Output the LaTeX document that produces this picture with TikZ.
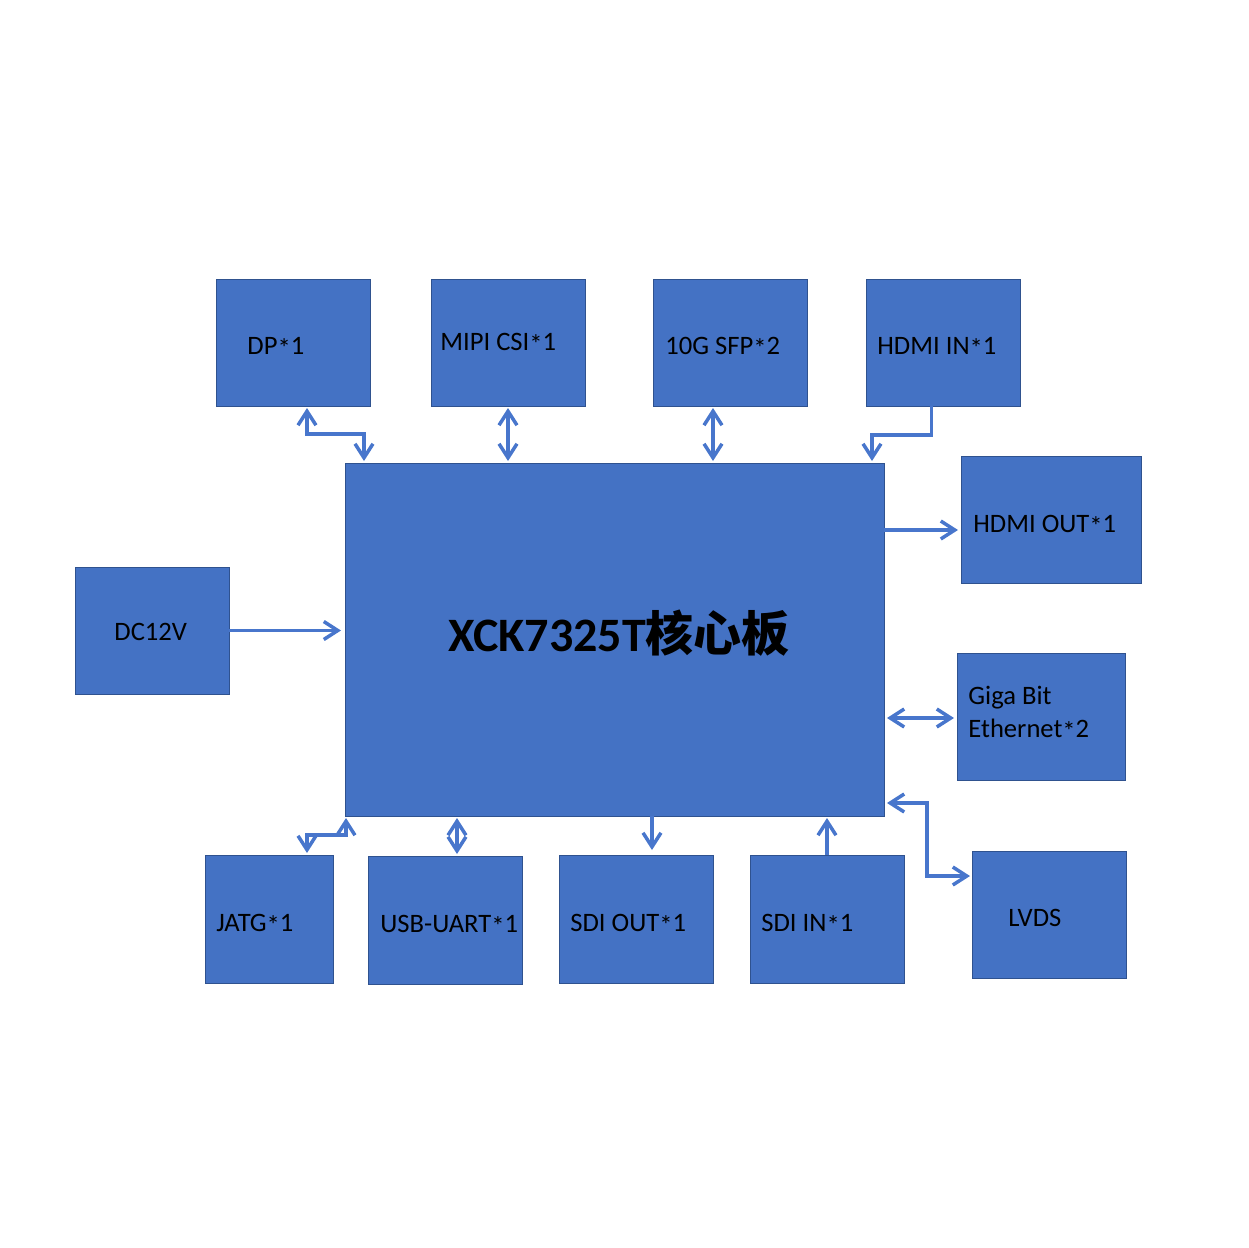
\documentclass[tikz,border=0pt]{standalone}
\usepackage{fontspec}
\setmainfont{Carlito}
\newfontfamily\cjk{Noto Sans CJK SC}
\usepackage{xcolor}
\usetikzlibrary{calc, arrows.meta}
\definecolor{boxblue}{RGB}{68,114,196}
\definecolor{boxedge}{RGB}{47,82,143}
\definecolor{linkblue}{RGB}{72,118,204}
% the asterisk sits lower in the original face
\newcommand\starmark{\raisebox{-.12em}{*}}

\begin{document}
\begin{tikzpicture}[
    x=.5pt, y=-.5pt,
    blockbox/.style={fill=boxblue, draw=boxedge, line width=.5pt,
        anchor=north west, inner sep=0pt, outer sep=0pt,
        minimum width=77pt, minimum height=63.5pt},
    boxtext/.style={anchor=base west, inner sep=0pt,
        font=\fontsize{13.3}{16.5}\selectfont},
    link/.style={draw=linkblue, line width=1.75pt,
        -{Straight Barb[length=7pt, width=9pt]}},
    twoway/.style={link,
        {Straight Barb[length=7pt, width=9pt]}-{Straight Barb[length=7pt, width=9pt]}},
]
    \useasboundingbox (0, 0) rectangle (1248, 1248);

    %% the core board
    \node[blockbox, minimum width=269.5pt, minimum height=176.5pt] (core)
        at (345, 463) {};
    \node[anchor=base west, inner sep=0pt,
        font=\fontsize{24}{28}\selectfont\bfseries] (core-t) at (448, 651)
        {XCK7325T{\cjk 核心板}};

    %% interfaces above
    \node[blockbox] (dp) at (216, 279) {};
    \node[blockbox] (mipi) at (431, 279) {};
    \node[blockbox] (sfp) at (653, 279) {};
    \node[blockbox] (hdmiin) at (866, 279) {};
    \node[boxtext] (dp-t) at (247, 354) {DP\starmark1};
    \node[boxtext] (mipi-t) at (440, 350) {MIPI CSI\starmark1};
    \node[boxtext] (sfp-t) at (665, 354) {10G SFP\starmark2};
    \node[boxtext] (hdmiin-t) at (877, 354) {HDMI IN\starmark1};

    %% interfaces on the sides
    \node[blockbox, minimum width=90pt] (hdmiout) at (961, 456) {};
    \node[blockbox] (dc) at (75, 567) {};
    \node[blockbox, minimum width=84pt] (giga) at (957, 653) {};
    \node[blockbox] (lvds) at (972, 851) {};
    \node[boxtext] (hdmiout-t) at (973, 532) {HDMI OUT\starmark1};
    \node[boxtext] (dc-t) at (114, 640) {DC12V};
    \node[boxtext, anchor=north west, align=left] (giga-t) at (968, 686)
        {Giga Bit\\Ethernet\starmark2};
    \node[boxtext] (lvds-t) at (1008, 926) {LVDS};

    %% interfaces below
    \node[blockbox, minimum width=64pt, minimum height=64pt] (jatg)
        at (205, 855) {};
    \node[blockbox, minimum height=64pt] (usb) at (368, 856) {};
    \node[blockbox, minimum height=64pt] (sdiout) at (559, 855) {};
    \node[blockbox, minimum height=64pt] (sdiin) at (750, 855) {};
    \node[boxtext] (jatg-t) at (216, 931) {JATG\starmark1};
    \node[boxtext] (usb-t) at (380, 932) {USB-UART\starmark1};
    \node[boxtext] (sdiout-t) at (570, 931) {SDI OUT\starmark1};
    \node[boxtext] (sdiin-t) at (761, 931) {SDI IN\starmark1};

    %% links on top
    \draw[twoway] ($(dp.south west)+(91, 2)$)
        |- ($(core.north west)+(19, -29)$) -- ($(core.north west)+(19, -2)$);
    \draw[twoway] ($(mipi.south)+(0, 2)$) -- ($(mipi.south |- core.north)+(0, -2)$);
    \draw[twoway] ($(sfp.south)+(-17, 2)$) -- ($(sfp.south |- core.north)+(-17, -2)$);
    \draw[link] ($(hdmiin.south)+(-11.5, 0)$)
        |- ($(core.north east)+(-12, -28)$) -- ($(core.north east)+(-12, -2)$);

    %% links on the sides
    \draw[link] ($(core.north east)+(0, 67)$) -- ($(hdmiout.north west)+(-3, 74)$);
    \draw[link] (dc.east) -- ($(dc.east -| core.west)+(-4, 0)$);
    \draw[twoway] ($(core.north east)+(3, 255)$) -- ($(giga.north west)+(-3, 65)$);
    \draw[twoway] ($(core.south east)+(3, -13)$) -- ++(40, 0)
        |- ($(lvds.north west)+(-2, 25)$);

    %% links below
    \draw[twoway] ($(core.south west)+(1, 2)$) -- ++(0, 17)
        -| ($(jatg.north east)+(-26, -2)$);
    \draw[twoway] ($(usb.north)+(12, -2)$) -- ($(usb.north |- core.south)+(12, 2)$);
    \draw[link] ($(sdiout.north |- core.south)+(16, 0)$) -- ($(sdiout.north)+(16, -5)$);
    \draw[link] (sdiin.north) -- ($(sdiin.north |- core.south)+(0, 2)$);
\end{tikzpicture}
\end{document}
